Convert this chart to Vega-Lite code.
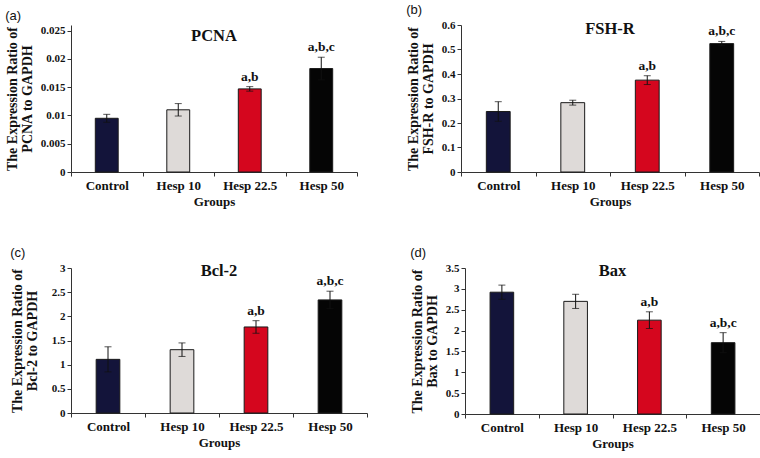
{
  "$schema": "https://vega.github.io/schema/vega-lite/v6.json",
  "background": "white",
  "padding": {"left": 5, "top": 4, "right": 5, "bottom": 5},
  "datasets": {
    "pcna": [
      {"group": "Control", "mean": 0.0095, "err": 0.0007, "sig": ""},
      {"group": "Hesp 10", "mean": 0.011, "err": 0.0011, "sig": ""},
      {"group": "Hesp 22.5", "mean": 0.0147, "err": 0.0004, "sig": "a,b"},
      {"group": "Hesp 50", "mean": 0.0183, "err": 0.002, "sig": "a,b,c"}
    ],
    "fshr": [
      {"group": "Control", "mean": 0.247, "err": 0.04, "sig": ""},
      {"group": "Hesp 10", "mean": 0.283, "err": 0.01, "sig": ""},
      {"group": "Hesp 22.5", "mean": 0.375, "err": 0.018, "sig": "a,b"},
      {"group": "Hesp 50", "mean": 0.524, "err": 0.009, "sig": "a,b,c"}
    ],
    "bcl2": [
      {"group": "Control", "mean": 1.11, "err": 0.26, "sig": ""},
      {"group": "Hesp 10", "mean": 1.31, "err": 0.14, "sig": ""},
      {"group": "Hesp 22.5", "mean": 1.78, "err": 0.13, "sig": "a,b"},
      {"group": "Hesp 50", "mean": 2.34, "err": 0.18, "sig": "a,b,c"}
    ],
    "bax": [
      {"group": "Control", "mean": 2.92, "err": 0.17, "sig": ""},
      {"group": "Hesp 10", "mean": 2.7, "err": 0.17, "sig": ""},
      {"group": "Hesp 22.5", "mean": 2.25, "err": 0.2, "sig": "a,b"},
      {"group": "Hesp 50", "mean": 1.71, "err": 0.24, "sig": "a,b,c"}
    ]
  },
  "config": {
    "view": {"stroke": null},
    "title": {"font": "Liberation Sans", "fontSize": 13, "fontWeight": "normal", "anchor": "start", "frame": "bounds", "color": "#111", "offset": 2},
    "axis": {
      "labelFont": "Liberation Serif", "labelFontWeight": "bold", "labelColor": "#111",
      "titleFont": "Liberation Serif", "titleFontWeight": "bold", "titleColor": "#111",
      "domainColor": "#333", "tickColor": "#333", "tickSize": 4, "grid": false
    },
    "axisX": {"labelFontSize": 13, "titleFontSize": 13, "labelAngle": 0, "tickBand": "extent", "labelPadding": 3, "titlePadding": 3},
    "axisY": {"labelFontSize": 11, "titleFontSize": 14, "titleLineHeight": 15, "titlePadding": 6, "format": "~g", "labelPadding": 2},
    "text": {"font": "Liberation Serif", "fontWeight": "bold", "color": "#111"},
    "tick": {"color": "#111", "thickness": 1, "size": 7},
    "rule": {"color": "#111", "strokeWidth": 1}
  },
  "vconcat": [
    {
      "spacing": 48,
      "hconcat": [
        {
          "title": "(a)",
          "width": 286, "height": 147,
          "data": {"name": "pcna"},
          "transform": [{"calculate": "datum.mean + datum.err", "as": "hi"}, {"calculate": "datum.mean - datum.err", "as": "lo"}],
          "encoding": {"x": {"field": "group", "type": "nominal", "sort": ["Control", "Hesp 10", "Hesp 22.5", "Hesp 50"], "scale": {"paddingInner": 0, "paddingOuter": 0}, "axis": {"title": "Groups"}}},
          "layer": [
            {"mark": {"type": "bar", "width": {"band": 0.32}, "stroke": "#1a1a1a", "strokeWidth": 1},
             "encoding": {"y": {"field": "mean", "type": "quantitative", "scale": {"domain": [0, 0.025]}, "axis": {"values": [0, 0.005, 0.01, 0.015, 0.02, 0.025], "title": ["The Expression Ratio of", "PCNA to GAPDH"]}},
                          "color": {"field": "group", "type": "nominal", "scale": {"domain": ["Control", "Hesp 10", "Hesp 22.5", "Hesp 50"], "range": ["#13143a", "#dedad8", "#d5061e", "#050505"]}, "legend": null}}},
            {"mark": "rule", "encoding": {"y": {"field": "lo", "type": "quantitative", "axis": {"values": [0, 0.005, 0.01, 0.015, 0.02, 0.025], "title": ["The Expression Ratio of", "PCNA to GAPDH"]}}, "y2": {"field": "hi"}}},
            {"mark": "tick", "encoding": {"y": {"field": "hi", "type": "quantitative", "axis": {"values": [0, 0.005, 0.01, 0.015, 0.02, 0.025], "title": ["The Expression Ratio of", "PCNA to GAPDH"]}}}},
            {"mark": "tick", "encoding": {"y": {"field": "lo", "type": "quantitative", "axis": {"values": [0, 0.005, 0.01, 0.015, 0.02, 0.025], "title": ["The Expression Ratio of", "PCNA to GAPDH"]}}}},
            {"mark": {"type": "text", "baseline": "bottom", "dy": -3, "fontSize": 13.5},
             "encoding": {"y": {"field": "hi", "type": "quantitative", "axis": {"values": [0, 0.005, 0.01, 0.015, 0.02, 0.025], "title": ["The Expression Ratio of", "PCNA to GAPDH"]}}, "text": {"field": "sig"}}},
            {"data": {"values": [{"gene": "PCNA"}]},
             "mark": {"type": "text", "baseline": "middle", "dy": 5, "fontSize": 16.5},
             "encoding": {"x": {"datum": "Hesp 22.5", "bandPosition": 0}, "y": {"datum": 0.025, "axis": {"values": [0, 0.005, 0.01, 0.015, 0.02, 0.025], "title": ["The Expression Ratio of", "PCNA to GAPDH"]}}, "text": {"field": "gene"}}}
          ]
        },
        {
          "title": "(b)",
          "width": 298, "height": 147,
          "data": {"name": "fshr"},
          "transform": [{"calculate": "datum.mean + datum.err", "as": "hi"}, {"calculate": "datum.mean - datum.err", "as": "lo"}],
          "encoding": {"x": {"field": "group", "type": "nominal", "sort": ["Control", "Hesp 10", "Hesp 22.5", "Hesp 50"], "scale": {"paddingInner": 0, "paddingOuter": 0}, "axis": {"title": "Groups"}}},
          "layer": [
            {"mark": {"type": "bar", "width": {"band": 0.32}, "stroke": "#1a1a1a", "strokeWidth": 1},
             "encoding": {"y": {"field": "mean", "type": "quantitative", "scale": {"domain": [0, 0.6]}, "axis": {"values": [0, 0.1, 0.2, 0.3, 0.4, 0.5, 0.6], "title": ["The Expression Ratio of", "FSH-R to GAPDH"]}},
                          "color": {"field": "group", "type": "nominal", "scale": {"domain": ["Control", "Hesp 10", "Hesp 22.5", "Hesp 50"], "range": ["#13143a", "#dedad8", "#d5061e", "#050505"]}, "legend": null}}},
            {"mark": "rule", "encoding": {"y": {"field": "lo", "type": "quantitative", "axis": {"values": [0, 0.1, 0.2, 0.3, 0.4, 0.5, 0.6], "title": ["The Expression Ratio of", "FSH-R to GAPDH"]}}, "y2": {"field": "hi"}}},
            {"mark": "tick", "encoding": {"y": {"field": "hi", "type": "quantitative", "axis": {"values": [0, 0.1, 0.2, 0.3, 0.4, 0.5, 0.6], "title": ["The Expression Ratio of", "FSH-R to GAPDH"]}}}},
            {"mark": "tick", "encoding": {"y": {"field": "lo", "type": "quantitative", "axis": {"values": [0, 0.1, 0.2, 0.3, 0.4, 0.5, 0.6], "title": ["The Expression Ratio of", "FSH-R to GAPDH"]}}}},
            {"mark": {"type": "text", "baseline": "bottom", "dy": -3, "fontSize": 13.5},
             "encoding": {"y": {"field": "hi", "type": "quantitative", "axis": {"values": [0, 0.1, 0.2, 0.3, 0.4, 0.5, 0.6], "title": ["The Expression Ratio of", "FSH-R to GAPDH"]}}, "text": {"field": "sig"}}},
            {"data": {"values": [{"gene": "FSH-R"}]},
             "mark": {"type": "text", "baseline": "middle", "dy": 4, "fontSize": 16.5},
             "encoding": {"x": {"datum": "Hesp 22.5", "bandPosition": 0}, "y": {"datum": 0.6, "axis": {"values": [0, 0.1, 0.2, 0.3, 0.4, 0.5, 0.6], "title": ["The Expression Ratio of", "FSH-R to GAPDH"]}}, "text": {"field": "gene"}}}
          ]
        }
      ]
    },
    {
      "spacing": 42,
      "hconcat": [
        {
          "title": "(c)",
          "width": 296, "height": 145,
          "data": {"name": "bcl2"},
          "transform": [{"calculate": "datum.mean + datum.err", "as": "hi"}, {"calculate": "datum.mean - datum.err", "as": "lo"}],
          "encoding": {"x": {"field": "group", "type": "nominal", "sort": ["Control", "Hesp 10", "Hesp 22.5", "Hesp 50"], "scale": {"paddingInner": 0, "paddingOuter": 0}, "axis": {"title": "Groups"}}},
          "layer": [
            {"mark": {"type": "bar", "width": {"band": 0.32}, "stroke": "#1a1a1a", "strokeWidth": 1},
             "encoding": {"y": {"field": "mean", "type": "quantitative", "scale": {"domain": [0, 3]}, "axis": {"values": [0, 0.5, 1, 1.5, 2, 2.5, 3], "titlePadding": 12, "title": ["The Expression Ratio of", "Bcl-2 to GAPDH"]}},
                          "color": {"field": "group", "type": "nominal", "scale": {"domain": ["Control", "Hesp 10", "Hesp 22.5", "Hesp 50"], "range": ["#13143a", "#dedad8", "#d5061e", "#050505"]}, "legend": null}}},
            {"mark": "rule", "encoding": {"y": {"field": "lo", "type": "quantitative", "axis": {"values": [0, 0.5, 1, 1.5, 2, 2.5, 3], "titlePadding": 12, "title": ["The Expression Ratio of", "Bcl-2 to GAPDH"]}}, "y2": {"field": "hi"}}},
            {"mark": "tick", "encoding": {"y": {"field": "hi", "type": "quantitative", "axis": {"values": [0, 0.5, 1, 1.5, 2, 2.5, 3], "titlePadding": 12, "title": ["The Expression Ratio of", "Bcl-2 to GAPDH"]}}}},
            {"mark": "tick", "encoding": {"y": {"field": "lo", "type": "quantitative", "axis": {"values": [0, 0.5, 1, 1.5, 2, 2.5, 3], "titlePadding": 12, "title": ["The Expression Ratio of", "Bcl-2 to GAPDH"]}}}},
            {"mark": {"type": "text", "baseline": "bottom", "dy": -3, "fontSize": 13.5},
             "encoding": {"y": {"field": "hi", "type": "quantitative", "axis": {"values": [0, 0.5, 1, 1.5, 2, 2.5, 3], "titlePadding": 12, "title": ["The Expression Ratio of", "Bcl-2 to GAPDH"]}}, "text": {"field": "sig"}}},
            {"data": {"values": [{"gene": "Bcl-2"}]},
             "mark": {"type": "text", "baseline": "middle", "dy": 3, "fontSize": 16.5},
             "encoding": {"x": {"datum": "Hesp 22.5", "bandPosition": 0}, "y": {"datum": 3, "axis": {"values": [0, 0.5, 1, 1.5, 2, 2.5, 3], "titlePadding": 12, "title": ["The Expression Ratio of", "Bcl-2 to GAPDH"]}}, "text": {"field": "gene"}}}
          ]
        },
        {
          "title": "(d)",
          "width": 295, "height": 146,
          "data": {"name": "bax"},
          "transform": [{"calculate": "datum.mean + datum.err", "as": "hi"}, {"calculate": "datum.mean - datum.err", "as": "lo"}],
          "encoding": {"x": {"field": "group", "type": "nominal", "sort": ["Control", "Hesp 10", "Hesp 22.5", "Hesp 50"], "scale": {"paddingInner": 0, "paddingOuter": 0}, "axis": {"title": "Groups"}}},
          "layer": [
            {"mark": {"type": "bar", "width": {"band": 0.32}, "stroke": "#1a1a1a", "strokeWidth": 1},
             "encoding": {"y": {"field": "mean", "type": "quantitative", "scale": {"domain": [0, 3.5]}, "axis": {"values": [0, 0.5, 1, 1.5, 2, 2.5, 3, 3.5], "title": ["The Expression Ratio of", "Bax to GAPDH"]}},
                          "color": {"field": "group", "type": "nominal", "scale": {"domain": ["Control", "Hesp 10", "Hesp 22.5", "Hesp 50"], "range": ["#13143a", "#dedad8", "#d5061e", "#050505"]}, "legend": null}}},
            {"mark": "rule", "encoding": {"y": {"field": "lo", "type": "quantitative", "axis": {"values": [0, 0.5, 1, 1.5, 2, 2.5, 3, 3.5], "title": ["The Expression Ratio of", "Bax to GAPDH"]}}, "y2": {"field": "hi"}}},
            {"mark": "tick", "encoding": {"y": {"field": "hi", "type": "quantitative", "axis": {"values": [0, 0.5, 1, 1.5, 2, 2.5, 3, 3.5], "title": ["The Expression Ratio of", "Bax to GAPDH"]}}}},
            {"mark": "tick", "encoding": {"y": {"field": "lo", "type": "quantitative", "axis": {"values": [0, 0.5, 1, 1.5, 2, 2.5, 3, 3.5], "title": ["The Expression Ratio of", "Bax to GAPDH"]}}}},
            {"mark": {"type": "text", "baseline": "bottom", "dy": -3, "fontSize": 13.5},
             "encoding": {"y": {"field": "hi", "type": "quantitative", "axis": {"values": [0, 0.5, 1, 1.5, 2, 2.5, 3, 3.5], "title": ["The Expression Ratio of", "Bax to GAPDH"]}}, "text": {"field": "sig"}}},
            {"data": {"values": [{"gene": "Bax"}]},
             "mark": {"type": "text", "baseline": "middle", "dy": 3, "fontSize": 16.5},
             "encoding": {"x": {"datum": "Hesp 22.5", "bandPosition": 0}, "y": {"datum": 3.5, "axis": {"values": [0, 0.5, 1, 1.5, 2, 2.5, 3, 3.5], "title": ["The Expression Ratio of", "Bax to GAPDH"]}}, "text": {"field": "gene"}}}
          ]
        }
      ]
    }
  ],
  "spacing": 39
}
